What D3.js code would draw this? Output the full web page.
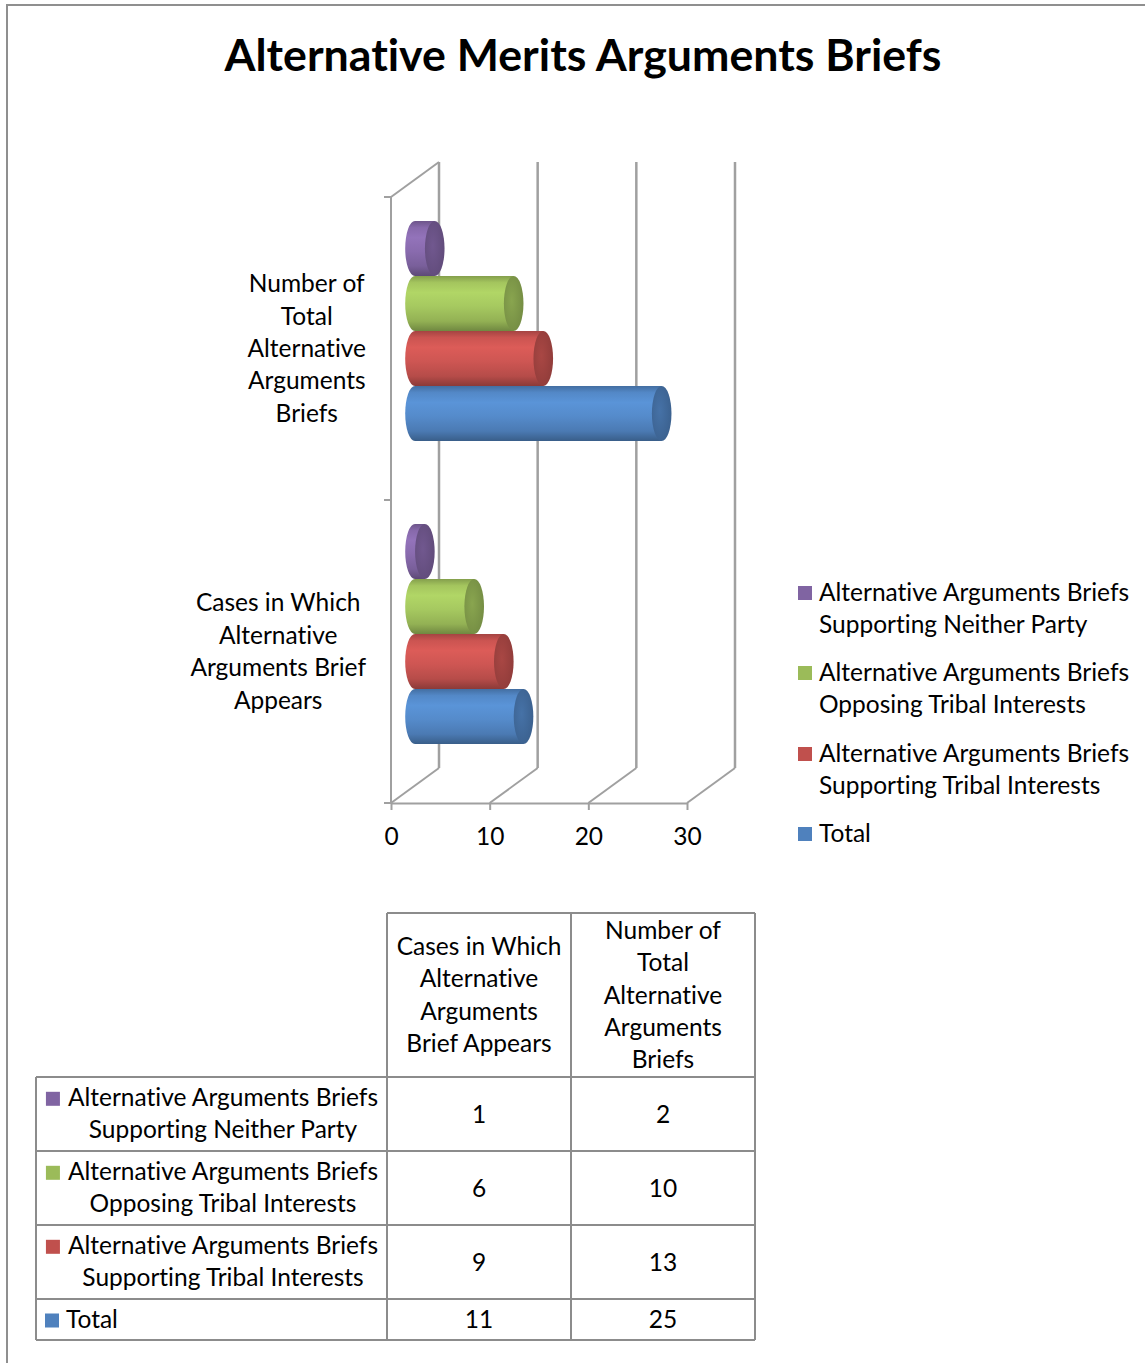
<!DOCTYPE html>
<html>
<head>
<meta charset="utf-8">
<script src="https://cdn.jsdelivr.net/npm/d3@7"></script>
<style>
  body { margin: 0; background: #fff; }
  svg { display: block; }
  text { font-family: Lato, "Open Sans", sans-serif; fill: #000; font-variant-ligatures: none; font-feature-settings: "liga" 0, "clig" 0, "dlig" 0; }
</style>
</head>
<body>
<svg id="chart" width="1145" height="1363"></svg>
<script>
// ---- data ----
const chartTitle = "Alternative Merits Arguments Briefs";
const categories = [
  "Cases in Which Alternative Arguments Brief Appears",
  "Number of Total Alternative Arguments Briefs"
];
const categoryLines = [
  ["Cases in Which", "Alternative", "Arguments Brief", "Appears"],
  ["Number of", "Total", "Alternative", "Arguments", "Briefs"]
];
const tableHeaderLines = [
  ["Cases in Which", "Alternative", "Arguments", "Brief Appears"],
  ["Number of", "Total", "Alternative", "Arguments", "Briefs"]
];
const seriesNames = [
  "Total",
  "Alternative Arguments Briefs Supporting Tribal Interests",
  "Alternative Arguments Briefs Opposing Tribal Interests",
  "Alternative Arguments Briefs Supporting Neither Party"
];
const totalValues      = [11, 25];
const supportingValues = [9, 13];
const opposingValues   = [6, 10];
const neitherValues    = [1, 2];
const seriesColors = ["#4f81bd", "#c0504d", "#9bbb59", "#8064a2"];
const xTicks = [0, 10, 20, 30];

const seriesValues = [totalValues, supportingValues, opposingValues, neitherValues];
const series = seriesNames.map((name, i) => ({
  name, color: seriesColors[i], values: seriesValues[i], key: "s" + i
}));
// top-to-bottom order used by the bars, legend and table
const seriesTopDown = series.slice().reverse();

const splitName = n => n.startsWith("Alternative Arguments Briefs ")
  ? ["Alternative Arguments Briefs", n.slice("Alternative Arguments Briefs ".length)]
  : [n];

const FONT = 24.5;
const GRID = "#a0a0a0";
const svg = d3.select("#chart");

// outer frame
svg.append("path")
  .attr("d", "M7,1363 L7,5 L1145,5")
  .attr("fill", "none").attr("stroke", "#8f8f8f").attr("stroke-width", 2);

// title
svg.append("text")
  .attr("x", 583).attr("y", 71)
  .attr("text-anchor", "middle")
  .style("font-weight", 700).style("font-size", "44.7px")
  .text(chartTitle);

// ---- 3D plot geometry ----
const x = d3.scaleLinear().domain([0, 30]).range([391, 687]);
const y = d3.scaleBand().domain([categories[1], categories[0]]).range([197, 803]);
const inner = d3.scaleBand()
  .domain(seriesTopDown.map(s => s.key))
  .range([0, y.bandwidth()])
  .paddingInner(0).paddingOuter(0.755);
const depthX = 48, depthY = -35;   // wall depth offset
const barDepth = 0.5;              // bars sit mid-depth

const grid = svg.append("g").attr("fill", "none").attr("stroke", GRID).attr("stroke-width", 2.5);

// back wall gridlines
xTicks.forEach(t => {
  grid.append("line")
    .attr("x1", x(t) + depthX).attr("x2", x(t) + depthX)
    .attr("y1", y.range()[0] + depthY).attr("y2", y.range()[1] + depthY);
  // floor diagonals
  grid.append("line")
    .attr("x1", x(t)).attr("y1", y.range()[1])
    .attr("x2", x(t) + depthX).attr("y2", y.range()[1] + depthY)
    .attr("stroke-width", 2);
});
// side wall: front edge and top diagonal
grid.append("line")
  .attr("x1", x(0)).attr("x2", x(0))
  .attr("y1", y.range()[0]).attr("y2", y.range()[1]).attr("stroke-width", 2);
grid.append("line")
  .attr("x1", x(0)).attr("y1", y.range()[0])
  .attr("x2", x(0) + depthX).attr("y2", y.range()[0] + depthY).attr("stroke-width", 2);

// category axis ticks at band edges
const bandEdges = [y.range()[0], y(categories[1]) + y.bandwidth(), y.range()[1]];
bandEdges.forEach(v => {
  grid.append("line").attr("x1", x(0) - 7).attr("x2", x(0))
    .attr("y1", v).attr("y2", v).attr("stroke-width", 2);
});

// value axis
const xAxis = svg.append("g")
  .attr("transform", `translate(0,${y.range()[1]})`)
  .call(d3.axisBottom(x).tickValues(xTicks).tickSize(7).tickSizeOuter(0));
xAxis.select(".domain").attr("stroke", GRID).attr("stroke-width", 2);
xAxis.selectAll(".tick line").attr("stroke", GRID).attr("stroke-width", 2);
xAxis.selectAll(".tick text")
  .attr("y", 42).attr("dy", 0)
  .style("font-size", FONT + "px").style("font-family", "Lato, sans-serif")
  .attr("fill", "#000");

// category labels: block right-aligned, lines centred within it
const lineH = 32.4;
categories.forEach((c, ci) => {
  const lines = categoryLines[ci];
  const g = svg.append("g");
  const t = g.selectAll("text").data(lines).join("text")
    .style("font-size", FONT + "px")
    .attr("text-anchor", "middle")
    .text(d => d);
  const maxW = d3.max(t.nodes(), n => n.getComputedTextLength());
  const cx = 366 - maxW / 2;
  const cy = y(c) + y.bandwidth() / 2;
  t.attr("x", cx)
   .attr("y", (d, i) => cy + (i - (lines.length - 1) / 2) * lineH + 8.5);
});

// ---- cylinder bars ----
const defs = svg.append("defs");
series.forEach(s => {
  const c = d3.color(s.color);
  const body = defs.append("linearGradient").attr("id", "body-" + s.key)
    .attr("x1", 0).attr("y1", 0).attr("x2", 0).attr("y2", 1);
  [[0, c.darker(0.45)], [0.12, c.brighter(0.15)], [0.3, c.brighter(0.38)],
   [0.55, c.brighter(0.2)], [0.82, c.darker(0.15)], [1, c.darker(0.9)]]
    .forEach(([o, col]) => body.append("stop").attr("offset", o).attr("stop-color", col));
  const cap = defs.append("radialGradient").attr("id", "cap-" + s.key)
    .attr("cx", 0.4).attr("cy", 0.45).attr("r", 0.7);
  [[0, c.darker(0.35)], [1, c.darker(0.85)]]
    .forEach(([o, col]) => cap.append("stop").attr("offset", o).attr("stop-color", col));
});

const rx = 9.8;
const bars = svg.append("g");
categories.forEach((c, ci) => {
  seriesTopDown.forEach(s => {
    const v = s.values[ci];
    const h = inner.bandwidth();
    const top = y(c) + inner(s.key) + depthY * barDepth;
    const bot = top + h;
    const ry = h / 2;
    const xl = x(0) + depthX * barDepth;
    const xr = x(v) + depthX * barDepth;
    const g = bars.append("g");
    g.append("path")
      .attr("d", `M${xr},${top} L${xl},${top} A${rx},${ry} 0 0 0 ${xl},${bot} L${xr},${bot} Z`)
      .attr("fill", `url(#body-${s.key})`);
    g.append("ellipse")
      .attr("cx", xr).attr("cy", top + ry).attr("rx", rx).attr("ry", ry)
      .attr("fill", `url(#cap-${s.key})`);
  });
});

// ---- legend ----
const legendY = [600, 680, 761, 841];
const legend = svg.append("g");
seriesTopDown.forEach((s, i) => {
  const lines = splitName(s.name);
  legend.append("rect")
    .attr("x", 798).attr("y", legendY[i] - 14).attr("width", 14).attr("height", 14)
    .attr("fill", s.color);
  legend.append("text")
    .style("font-size", FONT + "px")
    .selectAll("tspan").data(lines).join("tspan")
    .attr("x", 819).attr("y", (d, j) => legendY[i] + 0.5 + j * lineH)
    .text(d => d);
});

// ---- data table ----
const colEdges = [36, 387, 571, 755];
const rowEdges = [913, 1077, 1151, 1225, 1299, 1340];
const tbl = svg.append("g");
const lines = tbl.append("g").attr("stroke", "#8c8c8c").attr("stroke-width", 2);
lines.append("line").attr("x1", colEdges[1]).attr("x2", colEdges[3]).attr("y1", rowEdges[0]).attr("y2", rowEdges[0]);
rowEdges.slice(1).forEach(r =>
  lines.append("line").attr("x1", colEdges[0]).attr("x2", colEdges[3]).attr("y1", r).attr("y2", r));
lines.append("line").attr("x1", colEdges[0]).attr("x2", colEdges[0]).attr("y1", rowEdges[1]).attr("y2", rowEdges[5]);
colEdges.slice(1).forEach(cx =>
  lines.append("line").attr("x1", cx).attr("x2", cx).attr("y1", rowEdges[0]).attr("y2", rowEdges[5]));

// header cells
categories.forEach((c, ci) => {
  const hl = tableHeaderLines[ci];
  const cx = (colEdges[ci + 1] + colEdges[ci + 2]) / 2;
  const cy = (rowEdges[0] + rowEdges[1]) / 2;
  tbl.append("text").style("font-size", FONT + "px").attr("text-anchor", "middle")
    .selectAll("tspan").data(hl).join("tspan")
    .attr("x", cx).attr("y", (d, i) => cy + (i - (hl.length - 1) / 2) * lineH + 8.5)
    .text(d => d);
});

// body rows
seriesTopDown.forEach((s, ri) => {
  const r0 = rowEdges[ri + 1], r1 = rowEdges[ri + 2];
  const cy = (r0 + r1) / 2;
  const nl = splitName(s.name);
  if (nl.length > 1) {
    const t = tbl.append("text").style("font-size", FONT + "px").attr("text-anchor", "middle");
    t.selectAll("tspan").data(nl).join("tspan")
      .attr("x", 223).attr("y", (d, i) => cy + (i - 0.5) * lineH + 8)
      .text(d => d);
    const firstW = t.select("tspan").node().getComputedTextLength();
    tbl.append("rect")
      .attr("x", 223 - firstW / 2 - 22).attr("y", cy - lineH / 2 + 8 - 14)
      .attr("width", 14).attr("height", 14).attr("fill", s.color);
  } else {
    tbl.append("rect").attr("x", 45).attr("y", cy + 8 - 14)
      .attr("width", 14).attr("height", 14).attr("fill", s.color);
    tbl.append("text").style("font-size", FONT + "px")
      .attr("x", 66).attr("y", cy + 8).text(s.name);
  }
  categories.forEach((c, ci) => {
    tbl.append("text").style("font-size", FONT + "px").attr("text-anchor", "middle")
      .attr("x", (colEdges[ci + 1] + colEdges[ci + 2]) / 2).attr("y", cy + 8.5)
      .text(s.values[ci]);
  });
});
</script>
</body>
</html>
